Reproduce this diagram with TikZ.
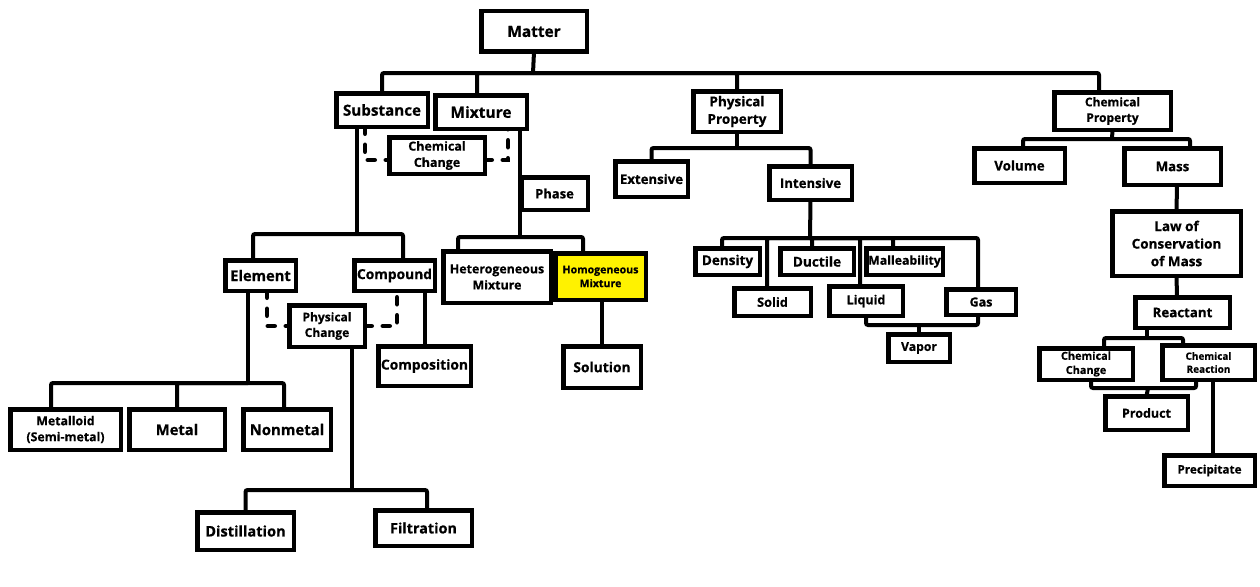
\documentclass[tikz,border=0pt]{standalone}
\usepackage{fontspec}
\setmainfont{Open Sans}[BoldFeatures={FakeBold=0.6}]
\pgfdeclarelayer{bg}
\pgfsetlayers{bg,main}
\definecolor{hl}{HTML}{FFF200}
\tikzset{
 box/.style={draw, line width=4.5pt, fill=white, inner sep=0pt, outer sep=0pt, align=center, rectangle},
 conn/.style={line width=4pt, rounded corners=2pt},
 dsh/.style={line width=4.5pt, dash pattern=on 7pt off 11pt, line cap=round},
}
\newcommand\mybox[8][]{\pgfmathsetmacro\mybsk{1.3*#2}\node[box,#1,font=\fontsize{#2}{\mybsk}\selectfont\bfseries,minimum width={(#6-#4-4.5)*1pt},minimum height={(#7-#5-4.5)*1pt}] (#3) at ({(#4+#6)/2},{(#5+#7)/2}) {#8};}
\begin{document}
\begin{tikzpicture}[x=1pt,y=-1pt]
\useasboundingbox (0,0) rectangle (1260,586);
\mybox{15.4}{matter}{479}{9}{589}{54}{Matter}
\mybox{15.2}{sub}{334}{91}{430}{129}{Substance}
\mybox{15.5}{mix}{433}{93}{529}{131}{Mixture}
\mybox{12.5}{cca}{387}{135}{487}{176}{Chemical\\Change}
\mybox{13}{phase}{519}{175}{590}{212}{Phase}
\mybox{14.7}{elem}{223}{258}{298}{293}{Element}
\mybox{13.8}{comp}{352}{258}{437}{293}{Compound}
\mybox{12.4}{het}{441}{249}{553}{305}{Heterogeneous\\Mixture}
\mybox[fill=hl]{10.6}{hom}{553}{251}{648}{302}{Homogeneous\\Mixture}
\mybox{12}{pc}{287}{303}{367}{349}{Physical\\Change}
\mybox{13.8}{compo}{376}{344}{473}{388}{Composition}
\mybox{13.8}{sol}{561}{344}{643}{390}{Solution}
\mybox{12.3}{metalloid}{8}{407}{123}{452}{Metalloid\\(Semi-metal)}
\mybox{14.7}{metal}{127}{407}{227}{452}{Metal}
\mybox{14.9}{nonmetal}{241}{407}{333}{452}{Nonmetal}
\mybox{14.6}{dist}{195}{510}{296}{552}{Distillation}
\mybox{14.4}{filt}{373}{508}{474}{548}{Filtration}
\mybox{13.5}{pprop}{691}{89}{783}{134}{Physical\\Property}
\mybox{13.2}{ext}{613}{159}{690}{199}{Extensive}
\mybox{13.2}{int}{767}{164}{854}{202}{Intensive}
\mybox{13.5}{dens}{693}{246}{762}{277}{Density}
\mybox{13.6}{duct}{778}{246}{856}{277}{Ductile}
\mybox{12.3}{mall}{864}{246}{945}{277}{Malleability}
\mybox{12.8}{solid}{732}{286}{813}{318}{Solid}
\mybox{12.5}{liq}{827}{284}{905}{318}{Liquid}
\mybox{12.5}{gas}{944}{287}{1018}{317}{Gas}
\mybox{12.2}{vap}{886}{332}{952}{364}{Vapor}
\mybox{12}{cprop}{1052}{90}{1173}{132}{Chemical\\Property}
\mybox{13.3}{vol}{972}{146}{1067}{185}{Volume}
\mybox{13.2}{mass}{1122}{146}{1223}{187}{Mass}
\mybox{13.5}{law}{1110}{209}{1243}{278}{Law of\\Conservation\\of Mass}
\mybox{13.3}{react}{1133}{295}{1232}{330}{Reactant}
\mybox{10.9}{ccb}{1037}{346}{1135}{382}{Chemical\\Change}
\mybox{10}{cr}{1160}{343}{1257}{382}{Chemical\\Reaction}
\mybox{12.5}{prod}{1103}{394}{1190}{432}{Product}
\mybox{11.7}{prec}{1162}{453}{1257}{488}{Precipitate}
\begin{pgfonlayer}{bg}
\fill[white] (0,0) rectangle (1260,586);
\coordinate (b1) at (533,73);
\coordinate (b2) at (357,234);
\coordinate (b3) at (520,237);
\coordinate (b4) at (248,383);
\coordinate (b5) at (352,490);
\coordinate (b6) at (737,148);
\coordinate (b7) at (810,238);
\coordinate (b8) at (919,325);
\coordinate (b9) at (1112,139);
\coordinate (b10) at (1147,338);
\coordinate (b11) at (1148,388);
% top level
\draw[conn] (matter.south) -- (b1);
\draw[conn] (sub.north) |- (b1) -| ([xshift=-13.5pt]cprop.north);
\draw[conn] ([xshift=-4pt]mix.north) |- (b1);
\draw[conn] (pprop.north) |- (b1);
% substance / mixture
\draw[dsh] ([xshift=-17pt]sub.south) |- ([yshift=-4.5pt]cca.west);
\draw[dsh] ([yshift=-4.5pt]cca.east) -| ([xshift=27pt]mix.south);
\draw[conn] ([xshift=-25pt]sub.south) -- (b2);
\draw[conn] ([xshift=-7.5pt]elem.north) |- (b2) -| ([xshift=8.5pt]comp.north);
\draw[conn] ([xshift=39pt]mix.south) -- (b3);
\draw[conn] ([xshift=-39pt]het.north) |- (b3) -| ([xshift=-17.5pt]hom.north);
\draw[conn] ([xshift=1.5pt]hom.south) -- (sol.north);
\draw[conn] ([xshift=30pt]comp.south) -- (compo.north);
\draw[dsh] ([xshift=6.5pt]elem.south) |- (pc.west);
\draw[dsh] (pc.east) -| ([xshift=2.5pt]comp.south);
\draw[conn] ([xshift=-12.5pt]elem.south) -- (b4);
\draw[conn] ([xshift=-14.5pt]metalloid.north) |- (b4) -| ([xshift=-3pt]nonmetal.north);
\draw[conn] (metal.north) |- (b4);
\draw[conn] ([xshift=25pt]pc.south) -- (b5);
\draw[conn] (dist.north) |- (b5) -| ([xshift=3.5pt]filt.north);
% physical property
\draw[conn] (pprop.south) -- (b6);
\draw[conn] (ext.north) |- (b6) -| (int.north);
\draw[conn] (int.south) -- (b7);
\draw[conn] ([xshift=-5.5pt]dens.north) |- (b7) -| ([xshift=-3pt]gas.north);
\draw[conn] ([xshift=-5.5pt]solid.north) |- (b7);
\draw[conn] ([xshift=-5pt]duct.north) |- (b7);
\draw[conn] ([xshift=-6pt]liq.north) |- (b7);
\draw[conn] ([xshift=-11.5pt]mall.north) |- (b7);
\draw[conn] (liq.south) |- (b8) -| ([xshift=-3pt]gas.south);
\draw[conn] (vap.north) -- (b8);
% chemical property
\draw[conn] (cprop.south) -- (b9);
\draw[conn] ([xshift=3.5pt]vol.north) |- (b9) -| ([xshift=17.5pt]mass.north);
\draw[conn] ([xshift=4.5pt]mass.south) -- (law.north);
\draw[conn] (law.south) -- ([xshift=-5.5pt]react.north);
\draw[conn] ([xshift=-35.5pt]react.south) -- (b10);
\draw[conn] ([xshift=18pt]ccb.north) |- (b10) -| ([xshift=-25.5pt]cr.north);
\draw[conn] ([xshift=5pt]ccb.south) |- (b11) -| ([xshift=-12.5pt]cr.south);
\draw[conn] (prod.north) -- (b11);
\draw[conn] ([xshift=4.5pt]cr.south) -- ([xshift=3.5pt]prec.north);
\end{pgfonlayer}
\end{tikzpicture}
\end{document}
